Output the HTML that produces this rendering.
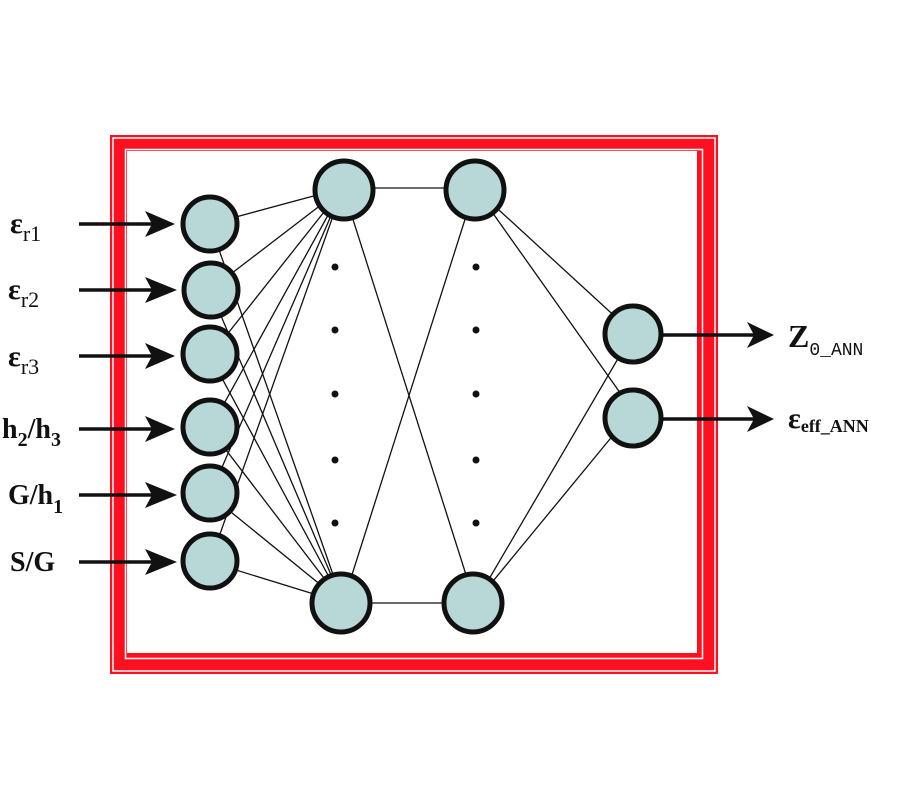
<!DOCTYPE html>
<html><head><meta charset="utf-8"><style>
html,body{margin:0;padding:0;background:#fff;}
svg{display:block;}
text{font-family:"Liberation Serif",serif;font-weight:bold;fill:#111;}
</style></head><body>
<svg width="900" height="800" viewBox="0 0 900 800" xmlns="http://www.w3.org/2000/svg">
<!-- frame -->
<rect x="110" y="135" width="608" height="539" fill="#ff1020"/>
<rect x="113" y="138" width="602" height="533" fill="none" stroke="#fff" stroke-width="1.5"/>
<rect x="125.5" y="149.5" width="577" height="509" fill="none" stroke="#fff" stroke-width="1.5"/>
<rect x="127" y="151" width="570" height="502" fill="#fff"/>
<g stroke="#111" stroke-width="1.3" fill="none">
<line x1="210" y1="224" x2="343" y2="188"/><line x1="210" y1="224" x2="343" y2="603"/>
<line x1="210" y1="290" x2="343" y2="188"/><line x1="210" y1="290" x2="343" y2="603"/>
<line x1="210" y1="356" x2="343" y2="188"/><line x1="210" y1="356" x2="343" y2="603"/>
<line x1="210" y1="429" x2="343" y2="188"/><line x1="210" y1="429" x2="343" y2="603"/>
<line x1="210" y1="495" x2="343" y2="188"/><line x1="210" y1="495" x2="343" y2="603"/>
<line x1="210" y1="562" x2="343" y2="188"/><line x1="210" y1="562" x2="343" y2="603"/>
<line x1="343" y1="188" x2="475" y2="188"/><line x1="343" y1="188" x2="475" y2="603"/>
<line x1="343" y1="603" x2="475" y2="188"/><line x1="343" y1="603" x2="475" y2="603"/>
<line x1="475" y1="188" x2="633" y2="333"/><line x1="475" y1="188" x2="633" y2="411"/>
<line x1="475" y1="603" x2="633" y2="333"/><line x1="475" y1="603" x2="633" y2="411"/>
</g>
<g stroke="#111" stroke-width="3.5">
<line x1="79" y1="224" x2="165" y2="224"/><line x1="79" y1="290" x2="165" y2="290"/>
<line x1="79" y1="356" x2="165" y2="356"/><line x1="79" y1="429" x2="165" y2="429"/>
<line x1="79" y1="495" x2="165" y2="495"/><line x1="79" y1="562" x2="165" y2="562"/>
<line x1="660" y1="335" x2="760" y2="335"/><line x1="660" y1="419" x2="760" y2="419"/>
</g>
<g fill="#111">
<polygon points="145,211 175,224 145,237 152,224"/>
<polygon points="145,277 177,290 145,303 152,290"/>
<polygon points="145,343 175,356 145,369 152,356"/>
<polygon points="145,416 175,429 145,442 152,429"/>
<polygon points="145,482 177,495 145,508 152,495"/>
<polygon points="145,549 177,562 145,575 152,562"/>
<polygon points="747,322 774,335 747,348 754,335"/>
<polygon points="747,406 774,419 747,432 754,419"/>
</g>
<g fill="#b8d8d8" stroke="#111" stroke-width="5">
<circle cx="210" cy="224" r="27"/><circle cx="211" cy="290" r="27"/>
<circle cx="210" cy="354" r="27"/><circle cx="210" cy="427" r="27"/>
<circle cx="210" cy="493" r="27"/><circle cx="210" cy="561" r="27"/>
<circle cx="344" cy="190" r="29"/><circle cx="341" cy="603" r="29"/>
<circle cx="475" cy="190" r="29"/><circle cx="473" cy="603" r="29"/>
<circle cx="633" cy="334" r="28"/><circle cx="633" cy="418" r="28"/>
</g>
<g fill="#111">
<circle cx="335" cy="267" r="3.5"/><circle cx="335" cy="330" r="3.5"/><circle cx="335" cy="394" r="3.5"/>
<circle cx="335" cy="460" r="3.5"/><circle cx="335" cy="523" r="3.5"/>
<circle cx="476" cy="267" r="3.5"/><circle cx="476" cy="330" r="3.5"/><circle cx="476" cy="394" r="3.5"/>
<circle cx="476" cy="460" r="3.5"/><circle cx="476" cy="523" r="3.5"/>
</g>
<g font-size="30">
<text x="10" y="233">ε<tspan font-size="22" dy="8" font-weight="normal">r1</tspan></text>
<text x="8" y="299">ε<tspan font-size="22" dy="8" font-weight="normal">r2</tspan></text>
<text x="8" y="366">ε<tspan font-size="22" dy="8" font-weight="normal">r3</tspan></text>
<text x="2" y="438" font-size="28">h<tspan font-size="20" dy="8">2</tspan><tspan dy="-8">/h</tspan><tspan font-size="20" dy="8">3</tspan></text>
<text x="8" y="504" font-size="28">G/h<tspan font-size="20" dy="9">1</tspan></text>
<text x="10" y="571" font-size="28">S/G</text>
<text x="788" y="347" font-size="32">Z<tspan font-size="18" dy="8" font-family="Liberation Mono" font-weight="normal">0_ANN</tspan></text>
<text x="788" y="428">ε<tspan font-size="18" dy="4">eff_ANN</tspan></text>
</g>
</svg>
</body></html>
